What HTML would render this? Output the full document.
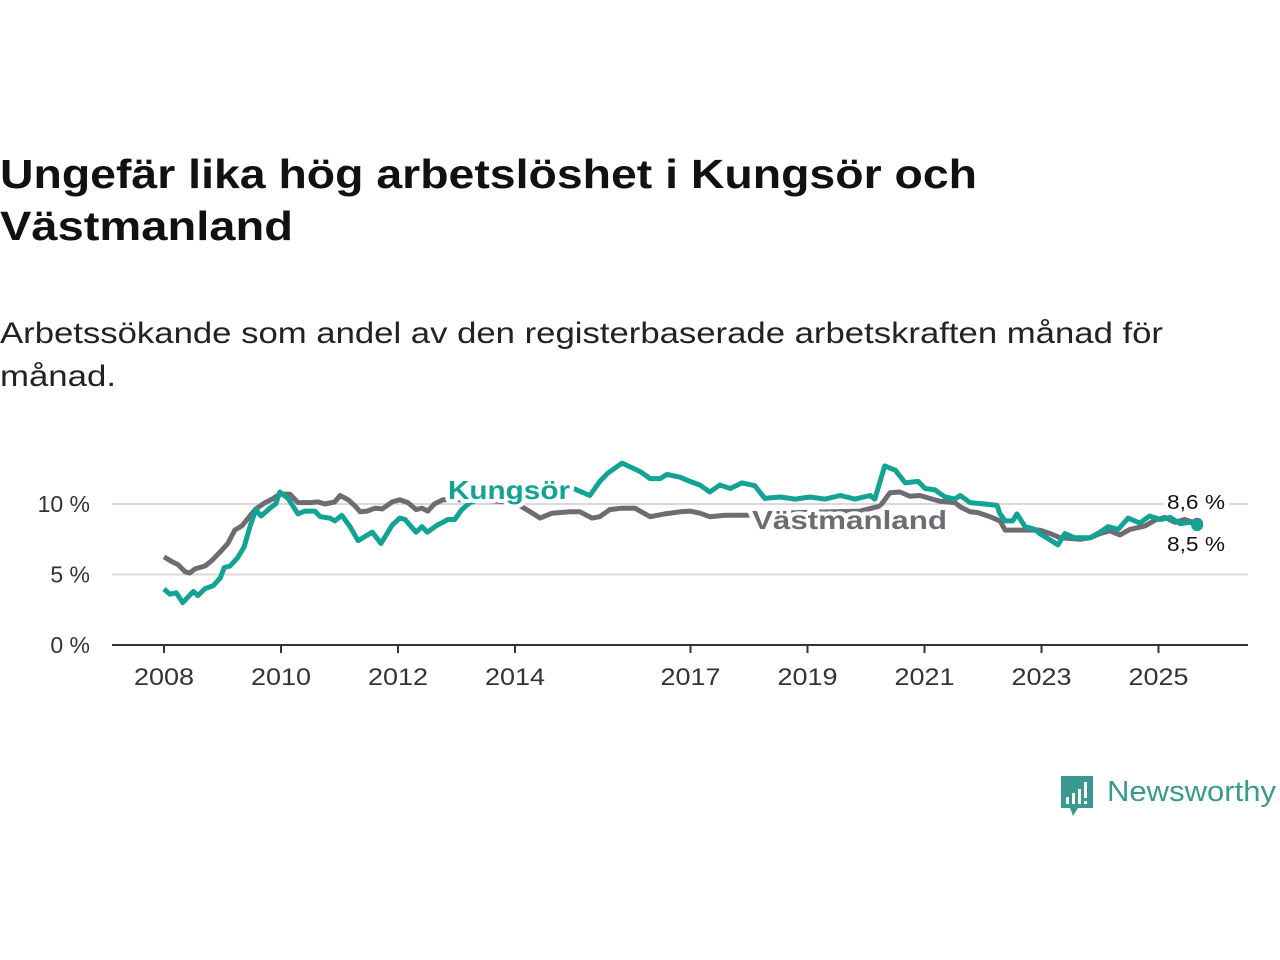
<!DOCTYPE html>
<html><head><meta charset="utf-8">
<style>html,body{margin:0;padding:0;background:#fff;}svg{display:block;font-family:"Liberation Sans",sans-serif;}</style>
</head><body>
<svg id="chart" width="1280" height="960" viewBox="0 0 1280 960">
<text x="0" y="188" font-size="41" font-weight="bold" fill="#111" textLength="977" lengthAdjust="spacingAndGlyphs">Ungefär lika hög arbetslöshet i Kungsör och</text>
<text x="0" y="240" font-size="41" font-weight="bold" fill="#111" textLength="293" lengthAdjust="spacingAndGlyphs">Västmanland</text>
<text x="0" y="343" font-size="30" fill="#222" textLength="1163" lengthAdjust="spacingAndGlyphs">Arbetssökande som andel av den registerbaserade arbetskraften månad för</text>
<text x="0" y="386" font-size="30" fill="#222" textLength="116" lengthAdjust="spacingAndGlyphs">månad.</text>
<g id="grid"></g>
<g id="series"></g>
<g id="labels"></g>
<g>
<path d="M1061 776 h32 v32 h-15 l-5 8 l-3 -8 h-9 z" fill="#3a9a8f"/>
<rect x="1066" y="797" width="3" height="7" fill="#fff"/><rect x="1072" y="793" width="3" height="11" fill="#fff"/><rect x="1078" y="789" width="3" height="15" fill="#fff"/><rect x="1084" y="782" width="3" height="16" fill="#fff"/><rect x="1084" y="801" width="3" height="3" fill="#fff"/>
<text x="1107" y="801" font-size="29" fill="#3a9a8f" textLength="169" lengthAdjust="spacingAndGlyphs">Newsworthy</text>
</g>
</svg>
<script>
const yTicks = [0, 5, 10];
const yTickLabels = ["0 %", "5 %", "10 %"];
const xTicks = [2008, 2010, 2012, 2014, 2017, 2019, 2021, 2023, 2025];
const kungsorDates = [2008.00,2008.10,2008.21,2008.32,2008.50,2008.58,2008.70,2008.84,2008.96,2009.03,2009.13,2009.26,2009.37,2009.47,2009.57,2009.66,2009.81,2009.91,2009.98,2010.12,2010.29,2010.41,2010.58,2010.67,2010.84,2010.92,2011.04,2011.18,2011.32,2011.44,2011.56,2011.71,2011.90,2012.03,2012.12,2012.31,2012.41,2012.50,2012.67,2012.77,2012.85,2012.97,2013.09,2013.23,2013.57,2014.09,2014.51,2014.80,2014.94,2015.28,2015.45,2015.59,2015.83,2016.14,2016.31,2016.48,2016.60,2016.82,2016.99,2017.16,2017.33,2017.50,2017.68,2017.88,2018.10,2018.27,2018.53,2018.79,2019.04,2019.30,2019.56,2019.81,2020.07,2020.15,2020.32,2020.50,2020.67,2020.89,2021.01,2021.18,2021.35,2021.52,2021.61,2021.78,2022.03,2022.24,2022.29,2022.38,2022.51,2022.58,2022.72,2022.89,2022.97,2023.15,2023.28,2023.40,2023.57,2023.83,2024.00,2024.14,2024.31,2024.48,2024.68,2024.85,2025.03,2025.20,2025.37,2025.54,2025.66];
const kungsorValues = [3.97,3.6,3.7,3.0,3.8,3.5,4.0,4.2,4.75,5.5,5.6,6.2,6.95,8.4,9.6,9.15,9.7,10.0,10.85,10.4,9.3,9.5,9.5,9.1,9.0,8.8,9.2,8.4,7.4,7.7,8.0,7.2,8.5,9.0,8.9,8.0,8.4,8.0,8.5,8.7,8.9,8.9,9.6,10.1,10.5,10.4,10.7,11.0,11.2,10.6,11.6,12.2,12.9,12.3,11.8,11.8,12.1,11.9,11.6,11.35,10.85,11.35,11.1,11.5,11.3,10.4,10.5,10.35,10.5,10.35,10.6,10.35,10.6,10.35,12.7,12.4,11.5,11.6,11.1,11.0,10.5,10.35,10.6,10.1,10.0,9.9,9.3,8.8,8.8,9.3,8.4,8.2,7.9,7.45,7.1,7.9,7.6,7.6,8.0,8.4,8.2,9.0,8.65,9.15,8.9,9.05,8.6,8.7,8.5];
const vastDates = [2008.00,2008.14,2008.24,2008.36,2008.44,2008.53,2008.70,2008.82,2008.96,2009.09,2009.21,2009.33,2009.44,2009.57,2009.73,2009.85,2009.98,2010.15,2010.29,2010.50,2010.63,2010.75,2010.92,2011.01,2011.15,2011.28,2011.35,2011.47,2011.61,2011.73,2011.90,2012.03,2012.17,2012.31,2012.41,2012.51,2012.62,2012.77,2013.40,2014.00,2014.26,2014.43,2014.63,2014.94,2015.11,2015.32,2015.45,2015.62,2015.83,2016.05,2016.31,2016.56,2016.82,2016.99,2017.16,2017.33,2017.59,2017.93,2018.87,2019.90,2020.24,2020.41,2020.58,2020.75,2020.92,2021.09,2021.26,2021.52,2021.61,2021.78,2021.91,2022.12,2022.29,2022.38,2022.97,2023.15,2023.32,2023.66,2023.83,2024.00,2024.17,2024.34,2024.51,2024.77,2024.94,2025.11,2025.28,2025.45,2025.66];
const vastValues = [6.25,5.9,5.7,5.2,5.1,5.4,5.6,6.0,6.6,7.2,8.15,8.45,9.0,9.65,10.1,10.35,10.7,10.7,10.1,10.1,10.15,10.0,10.15,10.6,10.3,9.8,9.45,9.5,9.7,9.65,10.15,10.3,10.1,9.6,9.7,9.5,10.0,10.3,10.3,10.1,9.45,9.0,9.35,9.45,9.45,9.0,9.1,9.6,9.7,9.7,9.1,9.3,9.45,9.5,9.35,9.1,9.2,9.2,9.4,9.5,9.85,10.8,10.85,10.55,10.6,10.4,10.2,10.1,9.8,9.45,9.4,9.1,8.8,8.15,8.15,7.9,7.6,7.5,7.6,7.9,8.1,7.8,8.2,8.45,8.85,9.05,8.7,8.9,8.6];

const NS = "http://www.w3.org/2000/svg";
const xScale = d => 164 + (d - 2008) * 58.5;
const yScale = v => 645 - v * 14.1;
function mk(tag, attrs, parent) { const e = document.createElementNS(NS, tag); for (const k in attrs) e.setAttribute(k, attrs[k]); parent.appendChild(e); return e; }
const grid = document.getElementById("grid"), series = document.getElementById("series"), labels = document.getElementById("labels");

yTicks.forEach((t, i) => {
  if (t > 0) {
    const gl = mk("line", {x1: 112, x2: 1248, y1: yScale(t), y2: yScale(t), stroke: "#d9d9d9", "stroke-width": 2}, grid);
    
    
  }
  const tl = mk("text", {x: 90, y: yScale(t) + 8, "font-size": 23, fill: "#333", "text-anchor": "end"}, grid);
  tl.textContent = yTickLabels[i];
  
  
});
const axis = mk("line", {x1: 112, x2: 1248, y1: 645, y2: 645, stroke: "#333", "stroke-width": 2}, grid);


xTicks.forEach(t => {
  const tk = mk("line", {x1: xScale(t), x2: xScale(t), y1: 645, y2: 653, stroke: "#333", "stroke-width": 2}, grid);
  
  
  const tl = mk("text", {x: xScale(t), y: 685, "font-size": 24, fill: "#333", "text-anchor": "middle", textLength: 60, lengthAdjust: "spacingAndGlyphs"}, grid);
  tl.textContent = String(t);
  
  
});

function pathFor(ds, vs) { return ds.map((d, i) => (i ? "L" : "M") + xScale(d).toFixed(1) + " " + yScale(vs[i]).toFixed(1)).join(" "); }
const gLine = mk("path", {d: pathFor(vastDates, vastValues), fill: "none", stroke: "#6e6c72", "stroke-width": 5, "stroke-linejoin": "round"}, series);


const kLine = mk("path", {d: pathFor(kungsorDates, kungsorValues), fill: "none", stroke: "#12a394", "stroke-width": 5, "stroke-linejoin": "round"}, series);


const gl = vastDates.length - 1, kl = kungsorDates.length - 1;
const gDot = mk("circle", {cx: xScale(vastDates[gl]), cy: yScale(vastValues[gl]), r: 6, fill: "#6e6c72"}, series);


const kDot = mk("circle", {cx: xScale(kungsorDates[kl]), cy: yScale(kungsorValues[kl]), r: 6, fill: "#12a394"}, series);



function label(txt, x, y, size, color, bold, name, len) {
  const t = mk("text", {x: x, y: y, "font-size": size, fill: color, "font-weight": bold ? "bold" : "normal", stroke: "#fff", "stroke-width": 8, "paint-order": "stroke", "stroke-linejoin": "round"}, labels);
  if (len) { t.setAttribute("textLength", len); t.setAttribute("lengthAdjust", "spacingAndGlyphs"); }
  t.textContent = txt;
  
  
}
label("Kungsör", 448, 499, 26, "#12a394", true, "kungsor-series-label", 122);
label("Västmanland", 752, 529, 26, "#6e6c72", true, "vastmanland-series-label", 195);
label("8,6 %", 1167, 509, 20, "#111", false, "vastmanland-end-value", 58);
label("8,5 %", 1167, 551, 20, "#111", false, "kungsor-end-value", 58);
</script>
</body></html>
